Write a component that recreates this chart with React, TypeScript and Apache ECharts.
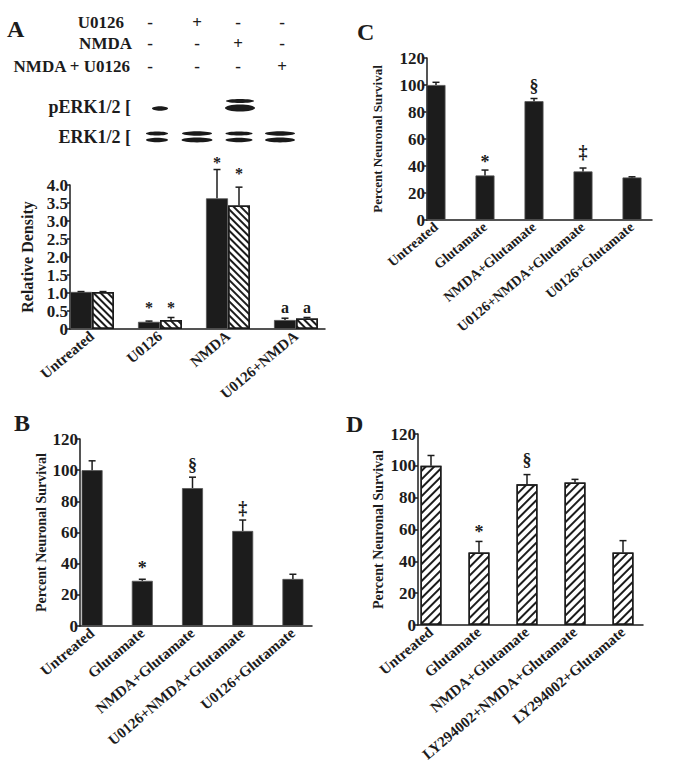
import React, { useEffect, useRef } from "react";
import * as echarts from "echarts";

// ---------- Panel A data ----------
const aCategories = ["Untreated", "U0126", "NMDA", "U0126+NMDA"];
const aBlack = [1.03, 0.2, 3.63, 0.25];
const aBlackErr = [0.01, 0.02, 0.8, 0.05];
const aHatched = [1.03, 0.25, 3.43, 0.29];
const aHatchedErr = [0.01, 0.07, 0.51, 0.03];
const aAnnotCat = [1, 1, 2, 2, 3, 3];
const aAnnotSide = [-1, 1, -1, 1, -1, 1];
const aAnnotY = [0.6, 0.6, 4.62, 4.32, 0.6, 0.6];
const aAnnotText = ["*", "*", "*", "*", "a", "a"];

const treatmentRows = ["U0126", "NMDA", "NMDA + U0126"];
const treatmentSigns = [
  ["-", "+", "-", "-"],
  ["-", "-", "+", "-"],
  ["-", "-", "-", "+"],
];
const blotLabels = ["pERK1/2 [", "ERK1/2 ["];

// ---------- Panel B data ----------
const bCategories = ["Untreated", "Glutamate", "NMDA+Glutamate", "U0126+NMDA+Glutamate", "U0126+Glutamate"];
const bValues = [100, 29, 88.5, 61, 30.2];
const bErr = [6, 1, 7, 7, 3];
const bAnnotCat = [1, 2, 3];
const bAnnotY = [37, 103, 75.5];
const bAnnotText = ["*", "§", "‡"];

// ---------- Panel C data ----------
const cCategories = ["Untreated", "Glutamate", "NMDA+Glutamate", "U0126+NMDA+Glutamate", "U0126+Glutamate"];
const cValues = [100, 33, 88, 36, 31.5];
const cErr = [2, 4, 2, 2.5, 0.5];
const cAnnotCat = [1, 2, 3];
const cAnnotY = [43, 99, 50.5];
const cAnnotText = ["*", "§", "‡"];

// ---------- Panel D data ----------
const dCategories = ["Untreated", "Glutamate", "NMDA+Glutamate", "LY294002+NMDA+Glutamate", "LY294002+Glutamate"];
const dValues = [100, 45.5, 88.5, 89.5, 45.5];
const dErr = [6.5, 7, 6, 2, 7.5];
const dAnnotCat = [1, 2];
const dAnnotY = [58.6, 103.6];
const dAnnotText = ["*", "§"];

const SERIF = '"Liberation Serif", "Times New Roman", serif';
const INK = "#1c1c1c";

const hatchBack = {
  symbol: "rect",
  symbolSize: 1,
  color: INK,
  backgroundColor: "#ffffff",
  dashArrayX: [1, 0],
  dashArrayY: [1.2, 3],
  rotation: Math.PI / 4,
};
const hatchFwd = {
  symbol: "rect",
  symbolSize: 1,
  color: INK,
  backgroundColor: "#ffffff",
  dashArrayX: [1, 0],
  dashArrayY: [1.3, 3.6],
  rotation: -Math.PI / 4,
};

function errSeries(gi: number, vals: number[], errs: number[], offset: number) {
  return {
    type: "custom",
    xAxisIndex: gi,
    yAxisIndex: gi,
    clip: false,
    z: 5,
    encode: { x: 0, y: 1 },
    data: vals.map((v, i) => [i, v, errs[i]]),
    renderItem: (params: any, api: any) => {
      const i = api.value(0);
      const v = api.value(1);
      const e = api.value(2);
      const p0 = api.coord([i, v]);
      const p1 = api.coord([i, v + e]);
      const x = p0[0] + offset;
      const st = { stroke: INK, lineWidth: 1.5 };
      return {
        type: "group",
        children: [
          { type: "line", shape: { x1: x, y1: p0[1], x2: x, y2: p1[1] }, style: st },
          { type: "line", shape: { x1: x - 3.5, y1: p1[1], x2: x + 3.5, y2: p1[1] }, style: st },
        ],
      };
    },
  };
}

function annotSeries(gi: number, cats: number[], ys: number[], texts: string[], offsets: number[], size: number) {
  return {
    type: "custom",
    xAxisIndex: gi,
    yAxisIndex: gi,
    clip: false,
    z: 6,
    encode: { x: 0, y: 1 },
    data: cats.map((c, k) => [c, ys[k]]),
    renderItem: (params: any, api: any) => {
      const p = api.coord([api.value(0), api.value(1)]);
      const k = params.dataIndex;
      return {
        type: "text",
        x: p[0] + offsets[k],
        y: p[1],
        style: {
          text: texts[k],
          fill: INK,
          fontFamily: SERIF,
          fontWeight: "bold",
          fontSize: size,
          textAlign: "center",
          textVerticalAlign: "middle",
          align: "center",
          verticalAlign: "middle",
        },
      };
    },
  };
}

function catAxis(gi: number, cats: string[], fontSize: number) {
  return {
    type: "category",
    gridIndex: gi,
    data: cats,
    axisLine: { show: false },
    axisTick: { show: false },
    splitLine: { show: false },
    axisLabel: {
      interval: 0,
      rotate: 40,
      margin: 5,
      fontFamily: SERIF,
      fontWeight: "bold",
      fontSize,
      color: INK,
    },
  };
}

function lineXAxis(gi: number) {
  return {
    type: "value",
    gridIndex: gi,
    min: 0,
    max: 1,
    axisLine: { show: true, lineStyle: { color: INK, width: 1.5 } },
    axisTick: { show: false },
    axisLabel: { show: false },
    splitLine: { show: false },
  };
}

function hiddenY(gi: number, max: number) {
  return { type: "value", gridIndex: gi, min: 0, max, show: false, splitLine: { show: false } };
}

function visibleY(
  gi: number,
  max: number,
  interval: number,
  name: string,
  nameGap: number,
  nameSize: number,
  labelSize: number,
  fmt: (v: number) => string
) {
  return {
    type: "value",
    gridIndex: gi,
    min: 0,
    max,
    interval,
    name,
    nameLocation: "middle",
    nameGap,
    nameTextStyle: { fontFamily: SERIF, fontWeight: "bold", fontSize: nameSize, color: INK },
    axisLine: { show: true, lineStyle: { color: INK, width: 1.5 } },
    axisTick: { show: true, length: 3, lineStyle: { color: INK, width: 1.5 } },
    axisLabel: { margin: 2, fontFamily: SERIF, fontWeight: "bold", fontSize: labelSize, color: INK, formatter: fmt },
    splitLine: { show: false },
  };
}

function gText(text: string, x: number, y: number, size: number, align: string) {
  return {
    type: "text",
    x,
    y,
    style: {
      text,
      fontFamily: SERIF,
      fontWeight: "bold",
      fontSize: size,
      fill: INK,
      textAlign: align,
      textVerticalAlign: "middle",
      align,
      verticalAlign: "middle",
    },
  };
}

export default function App() {
  const ref = useRef<HTMLDivElement>(null);

  useEffect(() => {
    if (!ref.current) return;
    const chart = echarts.init(ref.current, undefined, { renderer: "svg" });

    const signX = [150, 197, 238, 282];
    const rowY = [22, 43, 66];
    const rowRight = [124, 132, 130];

    const graphics: any[] = [];
    const letters: [string, number, number][] = [
      ["A", 7, 29],
      ["C", 357, 32],
      ["B", 14, 423],
      ["D", 346, 424],
    ];
    letters.forEach(([t, x, y]) => graphics.push(gText(t, x, y, 24, "left")));
    treatmentRows.forEach((r, ri) => {
      graphics.push(gText(r, rowRight[ri], rowY[ri], 17, "right"));
      treatmentSigns[ri].forEach((s, si) => graphics.push(gText(s, signX[si], rowY[ri], 17, "center")));
    });
    const blotY = [107, 137];
    blotLabels.forEach((t, i) => graphics.push(gText(t, 131, blotY[i], 18, "right")));
    // western blot bands
    const bands: [number, number, number, number][] = [
      [160, 108.5, 8, 2.2],
      [240, 101, 14, 2],
      [240, 108, 15, 3.5],
      [157, 133.5, 11, 2],
      [157, 140, 11, 2.2],
      [197, 133.5, 15, 2.2],
      [197, 140, 15.5, 2.4],
      [239, 133.5, 13.5, 2],
      [239, 140, 13.5, 2.2],
      [280, 133.5, 15, 2.2],
      [280, 140, 15, 2.4],
    ];
    bands.forEach(([cx, cy, rx, ry]) =>
      graphics.push({ type: "ellipse", shape: { cx, cy, rx, ry }, style: { fill: "#1a1a1a" } })
    );

    const option: any = {
      animation: false,
      backgroundColor: "#ffffff",
      graphic: graphics,
      grid: [
        { left: 58, width: 272, top: 185, height: 144 },
        { left: 70, width: 255, top: 185, height: 144 },
        { left: 411.5, width: 245, top: 58, height: 162 },
        { left: 427, width: 225, top: 58, height: 162 },
        { left: 67, width: 251, top: 439, height: 187 },
        { left: 80, width: 232, top: 439, height: 187 },
        { left: 407, width: 240, top: 434, height: 191 },
        { left: 418, width: 225, top: 434, height: 191 },
      ],
      xAxis: [
        catAxis(0, aCategories, 15),
        lineXAxis(1),
        catAxis(2, cCategories, 14),
        lineXAxis(3),
        catAxis(4, bCategories, 15),
        lineXAxis(5),
        catAxis(6, dCategories, 15),
        lineXAxis(7),
      ],
      yAxis: [
        hiddenY(0, 4),
        visibleY(1, 4, 0.5, "Relative Density", 35, 16, 17, (v) => (v === 0 ? "0" : v.toFixed(1))),
        hiddenY(2, 120),
        visibleY(3, 120, 20, "Percent Neuronal Survival", 43, 13, 17, (v) => String(v)),
        hiddenY(4, 120),
        visibleY(5, 120, 20, "Percent Neuronal Survival", 32, 14, 17, (v) => String(v)),
        hiddenY(6, 120),
        visibleY(7, 120, 20, "Percent Neuronal Survival", 33, 14, 17, (v) => String(v)),
      ],
      series: [
        // Panel A
        {
          type: "bar",
          xAxisIndex: 0,
          yAxisIndex: 0,
          data: aBlack,
          barWidth: 22,
          barGap: "0%",
          itemStyle: { color: INK, borderColor: "#555", borderWidth: 0.8 },
        },
        {
          type: "bar",
          xAxisIndex: 0,
          yAxisIndex: 0,
          data: aHatched,
          barWidth: 22,
          barGap: "0%",
          itemStyle: { color: "#ffffff", borderColor: INK, borderWidth: 1.5, decal: hatchBack },
        },
        errSeries(0, aBlack, aBlackErr, -11),
        errSeries(0, aHatched, aHatchedErr, 11),
        annotSeries(0, aAnnotCat, aAnnotY, aAnnotText, aAnnotSide.map((s) => s * 11), 16),
        // Panel C
        {
          type: "bar",
          xAxisIndex: 2,
          yAxisIndex: 2,
          data: cValues,
          barWidth: 19,
          itemStyle: { color: INK, borderColor: "#555", borderWidth: 0.8 },
        },
        errSeries(2, cValues, cErr, 0),
        annotSeries(2, cAnnotCat, cAnnotY, cAnnotText, cAnnotCat.map(() => 0), 18),
        // Panel B
        {
          type: "bar",
          xAxisIndex: 4,
          yAxisIndex: 4,
          data: bValues,
          barWidth: 21,
          itemStyle: { color: INK, borderColor: "#555", borderWidth: 0.8 },
        },
        errSeries(4, bValues, bErr, 0),
        annotSeries(4, bAnnotCat, bAnnotY, bAnnotText, bAnnotCat.map(() => 0), 18),
        // Panel D
        {
          type: "bar",
          xAxisIndex: 6,
          yAxisIndex: 6,
          data: dValues,
          barWidth: 21,
          itemStyle: { color: "#ffffff", borderColor: INK, borderWidth: 1.5, decal: hatchFwd },
        },
        errSeries(6, dValues, dErr, 0),
        annotSeries(6, dAnnotCat, dAnnotY, dAnnotText, dAnnotCat.map(() => 0), 18),
      ],
    };
    chart.setOption(option);
    return () => chart.dispose();
  }, []);

  return (
    <div
      ref={ref}
      style={{ position: "absolute", left: 0, top: 0, width: 673, height: 778, background: "#fff" }}
    />
  );
}
